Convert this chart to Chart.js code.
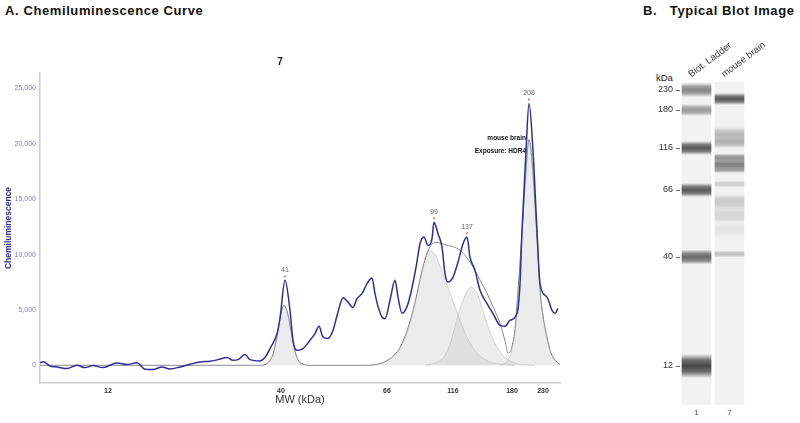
<!DOCTYPE html>
<html>
<head>
<meta charset="utf-8">
<script src="https://cdn.jsdelivr.net/npm/chart.js@4.4.1/dist/chart.umd.min.js"></script>
<style>
  body { margin: 0; width: 800px; height: 423px; background: #fff; overflow: hidden; position: relative;
         font-family: "Liberation Sans", Arial, sans-serif; }
  .head { position: absolute; top: 3px; font-weight: bold; font-size: 13px; color: #111; white-space: pre; letter-spacing: 0.6px; }
  #curveBox { position: absolute; left: 0; top: 0; width: 630px; height: 423px; }
  #blotBox { position: absolute; left: 630px; top: 20px; width: 170px; height: 403px; }
  #kda { position: absolute; left: 656px; top: 72px; font-size: 9.5px; color: #222; }
</style>
</head>
<body>
<div class="head" style="left:5px">A. Chemiluminescence Curve</div>
<div class="head" style="left:643px">B.   Typical Blot Image</div>
<div id="kda">kDa</div>
<div id="curveBox"><canvas id="curve"></canvas></div>
<div id="blotBox"><canvas id="blot"></canvas></div>
<script>
Chart.defaults.font.family = '"Liberation Sans", Arial, sans-serif';

// ---- curva de quimioluminiscencia (capilar 7) ----
const curveTitle = '7';
// posicion en el capilar (0..520) y señal leida
const tracePos = [0, 3, 10, 17, 27, 37, 45, 53, 63, 77, 87, 97, 105, 113, 122, 130, 140, 150, 160, 170,
  178, 187, 193, 198, 205, 210, 220, 225, 230, 237, 240, 245, 250, 253, 257, 263, 270, 275, 279, 283,
  288, 293, 298, 303, 308, 313, 317, 322, 327, 332, 335, 338, 342, 345, 350, 355, 358, 362, 367, 371,
  376, 380, 384, 388, 392, 394, 398, 402, 405, 408, 413, 418, 423, 427, 430, 435, 440, 447, 453, 460,
  465, 470, 477, 480, 482, 486, 489, 493, 497, 500, 507, 512, 515, 518];
const traceSignal = [210, 320, -60, -150, -300, 0, -210, -30, -210, 210, 60, 240, -360, -390, -150, -330, -150, 90, 300, 360,
  510, 700, 450, 510, 970, 510, 390, 700, 1500, 2860, 4240, 7670, 4960, 2260, 1350, 1500, 2260, 2860, 3520, 2550,
  2410, 3160, 4810, 6110, 5710, 5210, 6020, 6470, 7370, 7880, 6470, 5320, 4360, 4210, 5870, 7670, 6160, 4700, 5300, 6600,
  8840, 10980, 11580, 10830, 11430, 12930, 11890, 10680, 8280, 7520, 7970, 9320, 10980, 11580, 9770, 8570, 6770, 5570, 4670, 3610,
  3520, 4060, 4670, 7370, 12180, 19400, 23650, 19400, 12180, 7400, 6160, 4960, 4690, 5140];

// ajuste total
const fitPos = [0, 222, 228, 233, 237, 241, 244, 247, 250, 254, 258, 264, 270, 325, 340, 350, 360, 368, 375, 383,
  390, 396, 405, 420, 427, 433, 440, 447, 454, 460, 465, 468, 471, 475, 478, 482, 486, 489, 492, 495,
  498, 500, 503, 507, 510, 513, 518, 520];
const fitSignal = [0, 0, 250, 1000, 2600, 4700, 5400, 4900, 3600, 1600, 500, 80, 0, 0, 150, 600, 1600, 3400, 5700, 8900,
  10700, 11100, 10900, 10400, 9700, 8900, 7700, 6500, 5100, 3800, 2200, 1100, 1400, 3300, 6770, 12000, 17600, 20400, 18500, 14500,
  10000, 6900, 4500, 2550, 1400, 750, 180, 100];

// picos individuales
const peak41Pos = [222, 228, 233, 237, 241, 244, 247, 250, 254, 258, 264, 270];
const peak41Signal = [0, 250, 1000, 2600, 4700, 5400, 4900, 3600, 1600, 500, 80, 0];
const peak99Pos = [330, 340, 350, 360, 368, 375, 382, 388, 395, 402, 410, 417, 425, 435, 445, 460, 475];
const peak99Signal = [0, 150, 600, 1500, 3100, 5500, 8500, 10400, 10000, 8500, 6500, 4800, 2900, 1300, 500, 100, 0];
const peak137Pos = [385, 395, 405, 411, 417, 423, 431, 438, 444, 450, 457, 465, 475, 485, 495];
const peak137Signal = [0, 200, 900, 2200, 4200, 5900, 7050, 6300, 4600, 3000, 1650, 700, 200, 40, 0];
const peak208Pos = [460, 465, 468, 471, 475, 478, 482, 486, 489, 492, 495, 498, 500, 503, 507, 510, 513, 518, 520];
const peak208Signal = [0, 200, 500, 1100, 3000, 6500, 11800, 17500, 20300, 18400, 14300, 9800, 6700, 4300, 2400, 1300, 700, 170, 100];

// etiquetas de pico
const peakPos = [245, 394, 427, 489];
const peakSignal = [7670, 12930, 11580, 23650];
const peakLabels = ['41', '99', '137', '208'];

// ejes
const mwTickPos = [68, 241, 347, 413, 472, 503];
const mwTickLabels = ['12', '40', '66', '116', '180', '230'];
const signalTicks = [0, 5000, 10000, 15000, 20000, 25000];

const noteLines = ['mouse brain', 'Exposure: HDR4'];
const notePos = 486;
const noteSignal = [20490, 19310];

function pairs(xs, ys) {
  return xs.map((x, i) => ({ x: x, y: ys[i] }));
}

const peakLabelPlugin = {
  id: 'peakLabels',
  afterDatasetsDraw(chart) {
    const ctx = chart.ctx;
    const x = chart.scales.x;
    const y = chart.scales.y;
    ctx.save();
    ctx.textAlign = 'center';
    ctx.textBaseline = 'middle';
    ctx.font = '7px "Liberation Sans", Arial, sans-serif';
    peakPos.forEach(function (p, i) {
      const px = x.getPixelForValue(p);
      const py = y.getPixelForValue(peakSignal[i]);
      ctx.fillStyle = '#e39090';
      ctx.beginPath();
      ctx.arc(px, py - 4, 1.2, 0, Math.PI * 2);
      ctx.fill();
      ctx.fillStyle = '#666';
      ctx.fillText(peakLabels[i], px, py - 10);
    });
    // nombre de muestra
    ctx.textAlign = 'right';
    ctx.fillStyle = '#111';
    ctx.font = 'bold 6.5px "Liberation Sans", Arial, sans-serif';
    noteLines.forEach(function (t, i) {
      ctx.fillText(t, x.getPixelForValue(notePos), y.getPixelForValue(noteSignal[i]));
    });
    // titulo del capilar
    ctx.textAlign = 'center';
    ctx.font = 'bold 10px "Liberation Sans", Arial, sans-serif';
    ctx.fillText(curveTitle, chart.chartArea.left + 240, chart.chartArea.top - 11);
    ctx.restore();
  }
};

function peakFill(xs, ys) {
  return {
    data: pairs(xs, ys),
    borderColor: 'rgba(190,190,190,0.8)',
    borderWidth: 0.8,
    backgroundColor: 'rgba(200,200,200,0.34)',
    fill: 'origin',
    pointRadius: 0,
    cubicInterpolationMode: 'monotone'
  };
}

new Chart(document.getElementById('curve'), {
  type: 'line',
  data: {
    datasets: [
      {
        data: pairs(tracePos, traceSignal),
        borderColor: '#2e2e9c',
        borderWidth: 1.5,
        pointRadius: 0,
        fill: false,
        cubicInterpolationMode: 'monotone'
      },
      {
        data: pairs(fitPos, fitSignal),
        borderColor: '#8a8a8a',
        borderWidth: 1,
        pointRadius: 0,
        fill: false,
        cubicInterpolationMode: 'monotone'
      },
      peakFill(peak41Pos, peak41Signal),
      peakFill(peak99Pos, peak99Signal),
      peakFill(peak137Pos, peak137Signal),
      peakFill(peak208Pos, peak208Signal)
    ]
  },
  options: {
    animation: false,
    maintainAspectRatio: false,
    layout: { padding: { top: 73, right: 70, bottom: 12, left: 0 } },
    plugins: { legend: { display: false }, tooltip: { enabled: false } },
    scales: {
      x: {
        type: 'linear', min: 0, max: 520,
        grid: { display: false, drawTicks: false },
        border: { color: '#cfcfcf', width: 1.5 },
        afterBuildTicks(s) { s.ticks = mwTickPos.map(v => ({ value: v })); },
        ticks: {
          autoSkip: false, maxRotation: 0, padding: 4,
          color: '#333', font: { size: 7, weight: 'bold' },
          callback: v => mwTickLabels[mwTickPos.indexOf(v)]
        },
        title: { display: true, text: 'MW (kDa)', color: '#333', font: { size: 11 }, padding: { top: 0, bottom: 4 } },
        afterFit(s) { s.height = 28; }
      },
      y: {
        min: -1600, max: 26400,
        grid: { display: false, drawTicks: false },
        border: { color: '#cfcfcf', width: 1.5 },
        afterBuildTicks(s) { s.ticks = signalTicks.map(v => ({ value: v })); },
        ticks: {
          padding: 4, color: '#7c7cc8', font: { size: 7 },
          callback: v => v.toLocaleString('en-US')
        },
        title: { display: true, text: 'Chemiluminescence', color: '#2f2fa4', font: { size: 8.5, weight: 'bold' }, padding: { top: 4, bottom: 0 } },
        afterFit(s) { s.width = 40; }
      }
    }
  },
  plugins: [peakLabelPlugin]
});

// ---- imagen tipica de blot ----
const laneNames = ['Biot. Ladder', 'mouse brain'];
const laneNumbers = ['1', '7'];
const laneLength = 323;
const ladderKda = ['230', '180', '116', '66', '40', '12'];
const ladderMig = [8, 28, 66, 108, 175, 284];
const ladderAmt = [0.55, 0.45, 0.78, 0.78, 0.7, 0.88];
const ladderSpread = [14, 12, 14, 14, 15, 24];
const sampleMig = [17, 53, 61, 76, 82, 87, 102, 120, 133, 148, 172];
const sampleAmt = [0.78, 0.3, 0.3, 0.5, 0.6, 0.48, 0.2, 0.22, 0.15, 0.07, 0.25];
const sampleSpread = [12, 16, 10, 9, 8, 8, 7, 16, 16, 16, 7];

function bands(lane, mig, amt, spread) {
  return mig.map((m, i) => ({ x: lane, y: [m - spread[i] / 2, m + spread[i] / 2], a: amt[i] }));
}

function bandColor(c) {
  const chart = c.chart;
  if (!chart.chartArea || !c.raw) return 'rgba(50,50,50,0.5)';
  const yScale = chart.scales.y;
  const a = c.raw.a;
  const g = chart.ctx.createLinearGradient(0, yScale.getPixelForValue(c.raw.y[0]), 0, yScale.getPixelForValue(c.raw.y[1]));
  g.addColorStop(0, 'rgba(45,45,45,0)');
  g.addColorStop(0.25, 'rgba(45,45,45,' + (a * 0.75) + ')');
  g.addColorStop(0.5, 'rgba(45,45,45,' + a + ')');
  g.addColorStop(0.75, 'rgba(45,45,45,' + (a * 0.75) + ')');
  g.addColorStop(1, 'rgba(45,45,45,0)');
  return g;
}

new Chart(document.getElementById('blot'), {
  type: 'bar',
  data: {
    labels: laneNames,
    datasets: [
      { data: bands(laneNames[0], ladderMig, ladderAmt, ladderSpread), backgroundColor: bandColor,
        grouped: false, order: 0, barPercentage: 0.9, categoryPercentage: 1 },
      { data: bands(laneNames[1], sampleMig, sampleAmt, sampleSpread), backgroundColor: bandColor,
        grouped: false, order: 1, barPercentage: 0.9, categoryPercentage: 1 },
      { data: laneNames.map(l => ({ x: l, y: [0, laneLength] })), backgroundColor: '#f2f2f2',
        grouped: false, order: 2, barPercentage: 0.9, categoryPercentage: 1 }
    ]
  },
  options: {
    animation: false,
    maintainAspectRatio: false,
    layout: { padding: { top: 7, right: 54, bottom: 6, left: 0 } },
    plugins: { legend: { display: false }, tooltip: { enabled: false } },
    scales: {
      x: {
        type: 'category', position: 'top', offset: true,
        grid: { display: false, drawTicks: false },
        border: { display: false },
        ticks: { minRotation: 37, maxRotation: 37, padding: 2, color: '#333', font: { size: 9.5 } },
        afterFit(s) { s.height = 55; }
      },
      x2: {
        type: 'category', labels: laneNumbers, position: 'bottom', offset: true,
        grid: { display: false, drawTicks: false },
        border: { display: false },
        ticks: { padding: 3, color: '#555', font: { size: 8 } },
        afterFit(s) { s.height = 12; }
      },
      y: {
        reverse: true, min: 0, max: laneLength,
        grid: { drawOnChartArea: false, drawTicks: true, tickLength: 4, color: '#666' },
        border: { display: false },
        afterBuildTicks(s) { s.ticks = ladderMig.map(v => ({ value: v })); },
        ticks: {
          autoSkip: false, padding: 3, color: '#333', font: { size: 9 },
          callback: v => ladderKda[ladderMig.indexOf(v)]
        },
        afterFit(s) { s.width = 50; }
      }
    }
  }
});
</script>
</body>
</html>
